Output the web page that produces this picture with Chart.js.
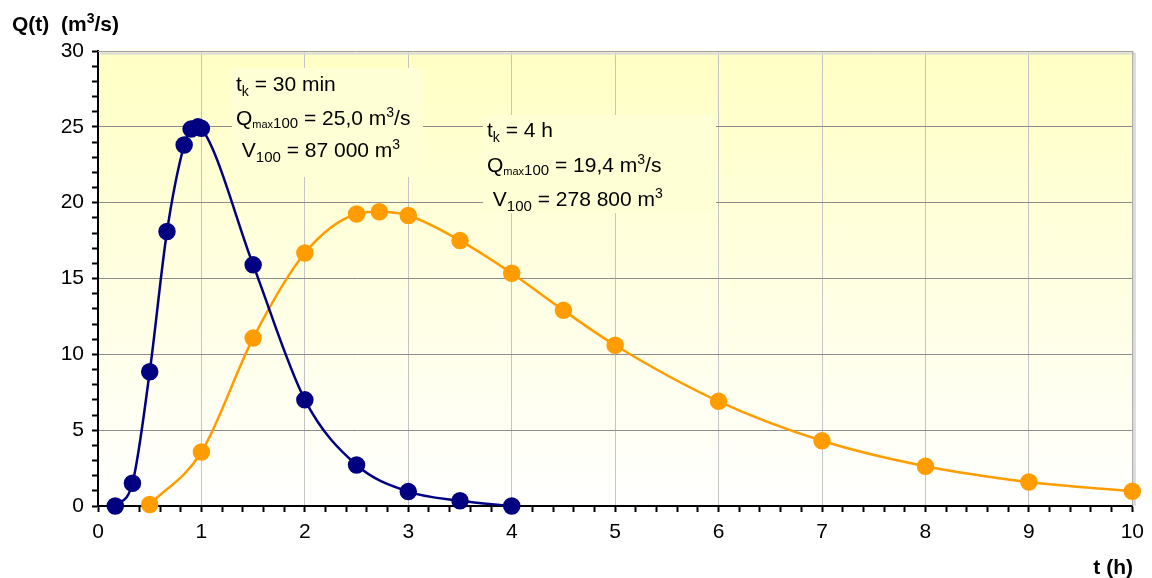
<!DOCTYPE html>
<html>
<head>
<meta charset="utf-8">
<script src="https://cdn.jsdelivr.net/npm/chart.js"></script>
<style>
html,body{margin:0;padding:0;background:#fff;}
#wrap{width:1152px;height:578px;position:relative;}
</style>
</head>
<body>
<div id="wrap"><canvas id="c" width="1152" height="578"></canvas></div>
<script>
// ---- data ----
const blueT = [0.167, 0.333, 0.5, 0.667, 0.833, 0.9, 0.967, 1.0, 1.5, 2.0, 2.5, 3.0, 3.5, 4.0];
const blueQ = [0, 1.5, 8.85, 18.1, 23.8, 24.85, 25.0, 24.9, 15.9, 7.0, 2.7, 0.95, 0.35, 0];
const orangeT = [0.5, 1, 1.5, 2, 2.5, 2.72, 3, 3.5, 4, 4.5, 5, 6, 7, 8, 9, 10];
const orangeQ = [0.1, 3.56, 11.07, 16.68, 19.25, 19.4, 19.15, 17.5, 15.35, 12.9, 10.6, 6.9, 4.3, 2.62, 1.58, 0.97];
const xTickLabels = ['0','1','2','3','4','5','6','7','8','9','10'];
const yTickLabels = ['0','5','10','15','20','25','30'];
const xTitle = 't (h)';
const note1 = [
  [{t:'t'},{t:'k',size:14,dy:5},{t:' = 30 min'}],
  [{t:'Q'},{t:'max',size:11,dy:3},{t:'100',size:15,dy:3},{t:' = 25,0 m'},{t:'3',size:14,dy:-8},{t:'/s'}],
  [{t:' V'},{t:'100',size:15,dy:5},{t:' = 87 000 m'},{t:'3',size:14,dy:-8}]
];
const note2 = [
  [{t:'t'},{t:'k',size:14,dy:5},{t:' = 4 h'}],
  [{t:'Q'},{t:'max',size:11,dy:3},{t:'100',size:15,dy:3},{t:' = 19,4 m'},{t:'3',size:14,dy:-8},{t:'/s'}],
  [{t:' V'},{t:'100',size:15,dy:5},{t:' = 278 800 m'},{t:'3',size:14,dy:-8}]
];

const FONT = '"Liberation Sans", Arial, sans-serif';
const toPts = (xs, ys) => xs.map((x, i) => ({x: x, y: ys[i]}));
const isInt = v => Math.abs(v - Math.round(v)) < 1e-6;
const isMul5 = v => isInt(v) && Math.round(v) % 5 === 0;

function drawRich(ctx, x, y, segs, base) {
  segs.forEach(s => {
    const size = s.size || base;
    ctx.font = size + 'px ' + FONT;
    ctx.fillText(s.t, x, y + (s.dy || 0));
    x += ctx.measureText(s.t).width;
  });
}

const bgPlugin = {
  id: 'bg',
  beforeDraw(chart) {
    const {ctx, chartArea: a} = chart;
    ctx.save();
    const g = ctx.createLinearGradient(0, a.top, 0, a.bottom);
    g.addColorStop(0, '#ffffc4');
    g.addColorStop(1, '#ffffff');
    ctx.fillStyle = g;
    ctx.fillRect(a.left, a.top, a.right - a.left, a.bottom - a.top);
    ctx.restore();
  },
  beforeDatasetsDraw(chart) {
    const {ctx, chartArea: a} = chart;
    ctx.save();
    // plot frame top/right with shadow
    ctx.strokeStyle = '#d8d8d8';
    ctx.lineWidth = 2;
    ctx.beginPath();
    ctx.moveTo(a.left + 2, a.top + 2.5); ctx.lineTo(a.right + 2.5, a.top + 2.5); ctx.lineTo(a.right + 2.5, a.bottom);
    ctx.stroke();
    ctx.strokeStyle = '#a0a0a0';
    ctx.lineWidth = 1;
    ctx.beginPath();
    ctx.moveTo(a.left, a.top + 0.5); ctx.lineTo(a.right + 0.5, a.top + 0.5); ctx.lineTo(a.right + 0.5, a.bottom);
    ctx.stroke();
    // note boxes
    ctx.fillStyle = '#ffffd6';
    ctx.fillRect(232, 68, 191, 109);
    ctx.fillRect(483, 115, 233, 98);
    ctx.fillStyle = '#000';
    ctx.textAlign = 'left';
    ctx.textBaseline = 'alphabetic';
    const b1 = [91, 125, 157];
    note1.forEach((l, i) => drawRich(ctx, 236, b1[i], l, 21));
    const b2 = [137, 172, 206];
    note2.forEach((l, i) => drawRich(ctx, 487, b2[i], l, 21));
    ctx.restore();
  },
  afterDraw(chart) {
    const {ctx} = chart;
    ctx.save();
    ctx.fillStyle = '#000';
    ctx.textBaseline = 'alphabetic';
    ctx.textAlign = 'left';
    const bf = s => 'bold ' + s + 'px ' + FONT;
    let x = 12;
    const parts = [['Q(t)  (m', 21, 0], ['3', 14, -8], ['/s)', 21, 0]];
    parts.forEach(p => { ctx.font = bf(p[1]); ctx.fillText(p[0], x, 31 + p[2]); x += ctx.measureText(p[0]).width; });
    ctx.font = bf(21);
    ctx.textAlign = 'right';
    ctx.fillText(xTitle, 1133, 574);
    ctx.restore();
  }
};

new Chart(document.getElementById('c'), {
  type: 'line',
  data: {
    datasets: [
      {
        label: 'tk = 30 min',
        data: toPts(blueT, blueQ),
        borderColor: '#000080',
        backgroundColor: '#000080',
        borderWidth: 2.5,
        pointRadius: 7.5,
        pointHoverRadius: 7.5,
        cubicInterpolationMode: 'monotone',
        clip: false,
        fill: false
      },
      {
        label: 'tk = 4 h',
        data: toPts(orangeT, orangeQ),
        borderColor: '#ff9c00',
        backgroundColor: '#ff9c00',
        borderWidth: 2.5,
        pointRadius: 7.5,
        pointHoverRadius: 7.5,
        cubicInterpolationMode: 'monotone',
        clip: false,
        fill: false
      }
    ]
  },
  options: {
    responsive: false,
    animation: false,
    layout: {padding: {left: 0, right: 18, top: 51, bottom: 0}},
    plugins: {legend: {display: false}, tooltip: {enabled: false}},
    scales: {
      x: {
        type: 'linear',
        min: 0, max: 10,
        afterFit(s) { s.height = 72; },
        ticks: {
          stepSize: 0.2,
          autoSkip: false,
          maxRotation: 0,
          padding: 8,
          color: '#000',
          font: {family: FONT, size: 21},
          callback: v => isInt(v) ? xTickLabels[Math.round(v)] : ''
        },
        grid: {
          color: c => (c.tick && isInt(c.tick.value) && c.tick.value > 0) ? '#c4c4c4' : 'rgba(0,0,0,0)',
          tickColor: '#000',
          tickLength: 6,
          tickWidth: 2,
          lineWidth: 1
        },
        border: {color: '#000', width: 2}
      },
      y: {
        min: 0, max: 30,
        afterFit(s) { s.width = 98; },
        ticks: {
          stepSize: 1,
          autoSkip: false,
          padding: 8,
          color: '#000',
          font: {family: FONT, size: 21},
          callback: v => isMul5(v) ? yTickLabels[Math.round(v) / 5] : ''
        },
        grid: {
          color: c => (c.tick && isMul5(c.tick.value) && c.tick.value > 0 && c.tick.value < 30) ? '#8c8c8c' : 'rgba(0,0,0,0)',
          tickColor: '#000',
          tickLength: 6,
          tickWidth: 2,
          lineWidth: 1
        },
        border: {color: '#000', width: 2}
      }
    }
  },
  plugins: [bgPlugin]
});
</script>
</body>
</html>
